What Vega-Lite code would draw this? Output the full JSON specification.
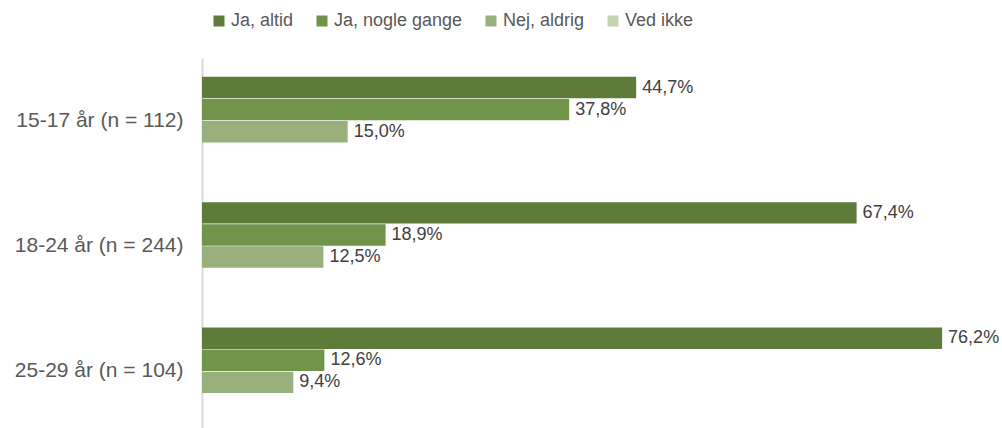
{
  "$schema": "https://vega.github.io/schema/vega-lite/v6.json",
  "autosize": "none",
  "padding": {"left": 202, "top": 58, "right": 23, "bottom": 0},
  "width": 777,
  "height": 376,
  "background": "white",
  "config": {
    "view": {"stroke": null},
    "font": "Liberation Sans",
    "locale": {"number": {"decimal": ",", "thousands": ".", "grouping": [3], "currency": ["", " kr."]}}
  },
  "data": {
    "values": [
      {"group": "15-17 år (n = 112)", "answer": "Ja, altid", "share": 0.447},
      {"group": "15-17 år (n = 112)", "answer": "Ja, nogle gange", "share": 0.378},
      {"group": "15-17 år (n = 112)", "answer": "Nej, aldrig", "share": 0.150},
      {"group": "18-24 år (n = 244)", "answer": "Ja, altid", "share": 0.674},
      {"group": "18-24 år (n = 244)", "answer": "Ja, nogle gange", "share": 0.189},
      {"group": "18-24 år (n = 244)", "answer": "Nej, aldrig", "share": 0.125},
      {"group": "25-29 år (n = 104)", "answer": "Ja, altid", "share": 0.762},
      {"group": "25-29 år (n = 104)", "answer": "Ja, nogle gange", "share": 0.126},
      {"group": "25-29 år (n = 104)", "answer": "Nej, aldrig", "share": 0.094}
    ]
  },
  "encoding": {
    "y": {
      "field": "group", "type": "nominal", "title": null,
      "scale": {"paddingInner": 0.3, "paddingOuter": 0.15},
      "axis": {"ticks": false, "domainColor": "#d9d9d9", "domainWidth": 2, "labelFontSize": 21, "labelColor": "#595959", "labelPadding": 19, "labelFont": "Liberation Sans"}
    },
    "yOffset": {
      "field": "answer", "type": "nominal",
      "scale": {"domain": ["Ja, altid", "Ja, nogle gange", "Nej, aldrig", "Ved ikke"], "paddingInner": 0.03}
    },
    "x": {
      "field": "share", "type": "quantitative", "title": null,
      "scale": {"domain": [0, 0.8], "nice": false},
      "axis": null
    }
  },
  "layer": [
    {
      "mark": {"type": "bar"},
      "encoding": {
        "color": {
          "field": "answer", "type": "nominal",
          "scale": {"domain": ["Ja, altid", "Ja, nogle gange", "Nej, aldrig", "Ved ikke"], "range": ["#5e7b3a", "#70954a", "#98b07b", "#c4d3b3"]},
          "legend": {
            "title": null, "orient": "none", "direction": "horizontal",
            "legendX": 8, "legendY": -46,
            "symbolType": "square", "symbolSize": 121, "symbolStrokeWidth": 0,
            "labelFontSize": 18, "labelColor": "#595959", "labelFont": "Liberation Sans",
            "labelOffset": 3, "columnPadding": 19
          }
        }
      }
    },
    {
      "mark": {"type": "text", "align": "left", "baseline": "middle", "dx": 6, "fontSize": 18, "color": "#404040"},
      "encoding": {
        "text": {"field": "share", "type": "quantitative", "format": ".1%"}
      }
    }
  ]
}
